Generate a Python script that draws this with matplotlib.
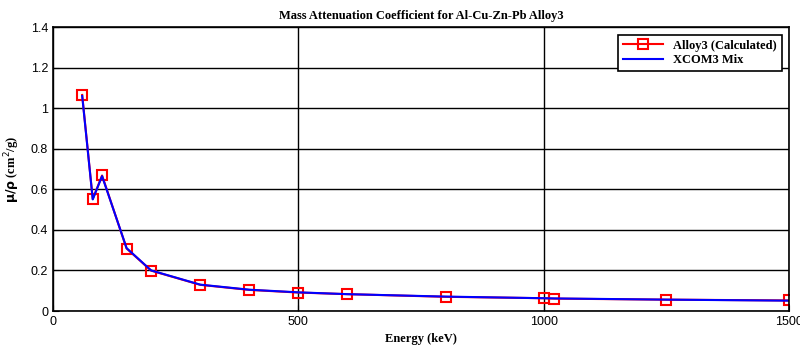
import numpy as np
import matplotlib
matplotlib.use('Agg')
import matplotlib.pyplot as plt
from matplotlib.ticker import FuncFormatter

# photon energies (keV) and mass attenuation coefficients (cm^2/g)
energy = [59.5, 81, 100, 150, 200, 300, 400, 500, 600, 800, 1000, 1022, 1250, 1500]
mu_calc = [1.065, 0.552, 0.668, 0.308, 0.199, 0.129, 0.104, 0.091, 0.083, 0.070, 0.063, 0.061, 0.056, 0.052]
mu_xcom = [1.060, 0.550, 0.665, 0.310, 0.200, 0.130, 0.105, 0.092, 0.083, 0.071, 0.063, 0.062, 0.056, 0.051]

fig = plt.figure(figsize=(8, 3.49), dpi=100)
ax = fig.add_axes([53/800, 1 - 311/349, (789-53)/800, (311-27)/349])

ax.plot(energy, mu_calc, color='red', marker='s', markersize=7, markerfacecolor='none',
        markeredgewidth=1.5, linewidth=1.5, label='Alloy3 (Calculated)')
ax.plot(energy, mu_xcom, color='blue', linewidth=1.5, label='XCOM3 Mix')

ax.set_xlim(0, 1500)
ax.set_ylim(0, 1.4)
ax.set_xticks([0, 500, 1000, 1500])
ax.set_yticks(np.arange(0, 1.41, 0.2))
ax.yaxis.set_major_formatter(FuncFormatter(lambda v, p: '{:g}'.format(round(v, 1))))
ax.grid(True, color='black', linewidth=1, linestyle='-')
ax.set_axisbelow(True)
ax.tick_params(direction='in', labelsize=9, length=4)
for lbl in ax.get_xticklabels() + ax.get_yticklabels():
    lbl.set_fontfamily('Liberation Sans')
for s in ax.spines.values():
    s.set_linewidth(1.2)

ax.set_title('Mass Attenuation Coefficient for Al-Cu-Zn-Pb Alloy3', fontsize=9,
             fontweight='bold', family='Liberation Serif', pad=6)
ax.set_xlabel('Energy (keV)', fontsize=9, fontweight='bold', family='Liberation Serif', labelpad=4)
ax.set_ylabel(r'$\mathbf{\mu/\rho}$ (cm$^2$/g)', fontsize=9, fontweight='bold',
              family='Liberation Serif', labelpad=6)

leg = ax.legend(loc='upper right', prop={'family': 'Liberation Serif', 'weight': 'bold', 'size': 9},
                fancybox=False, framealpha=1, edgecolor='black', borderaxespad=0.6,
                handlelength=3.2, labelspacing=0.2)
leg.get_frame().set_linewidth(1.2)

fig.savefig('out.png', dpi=100)
